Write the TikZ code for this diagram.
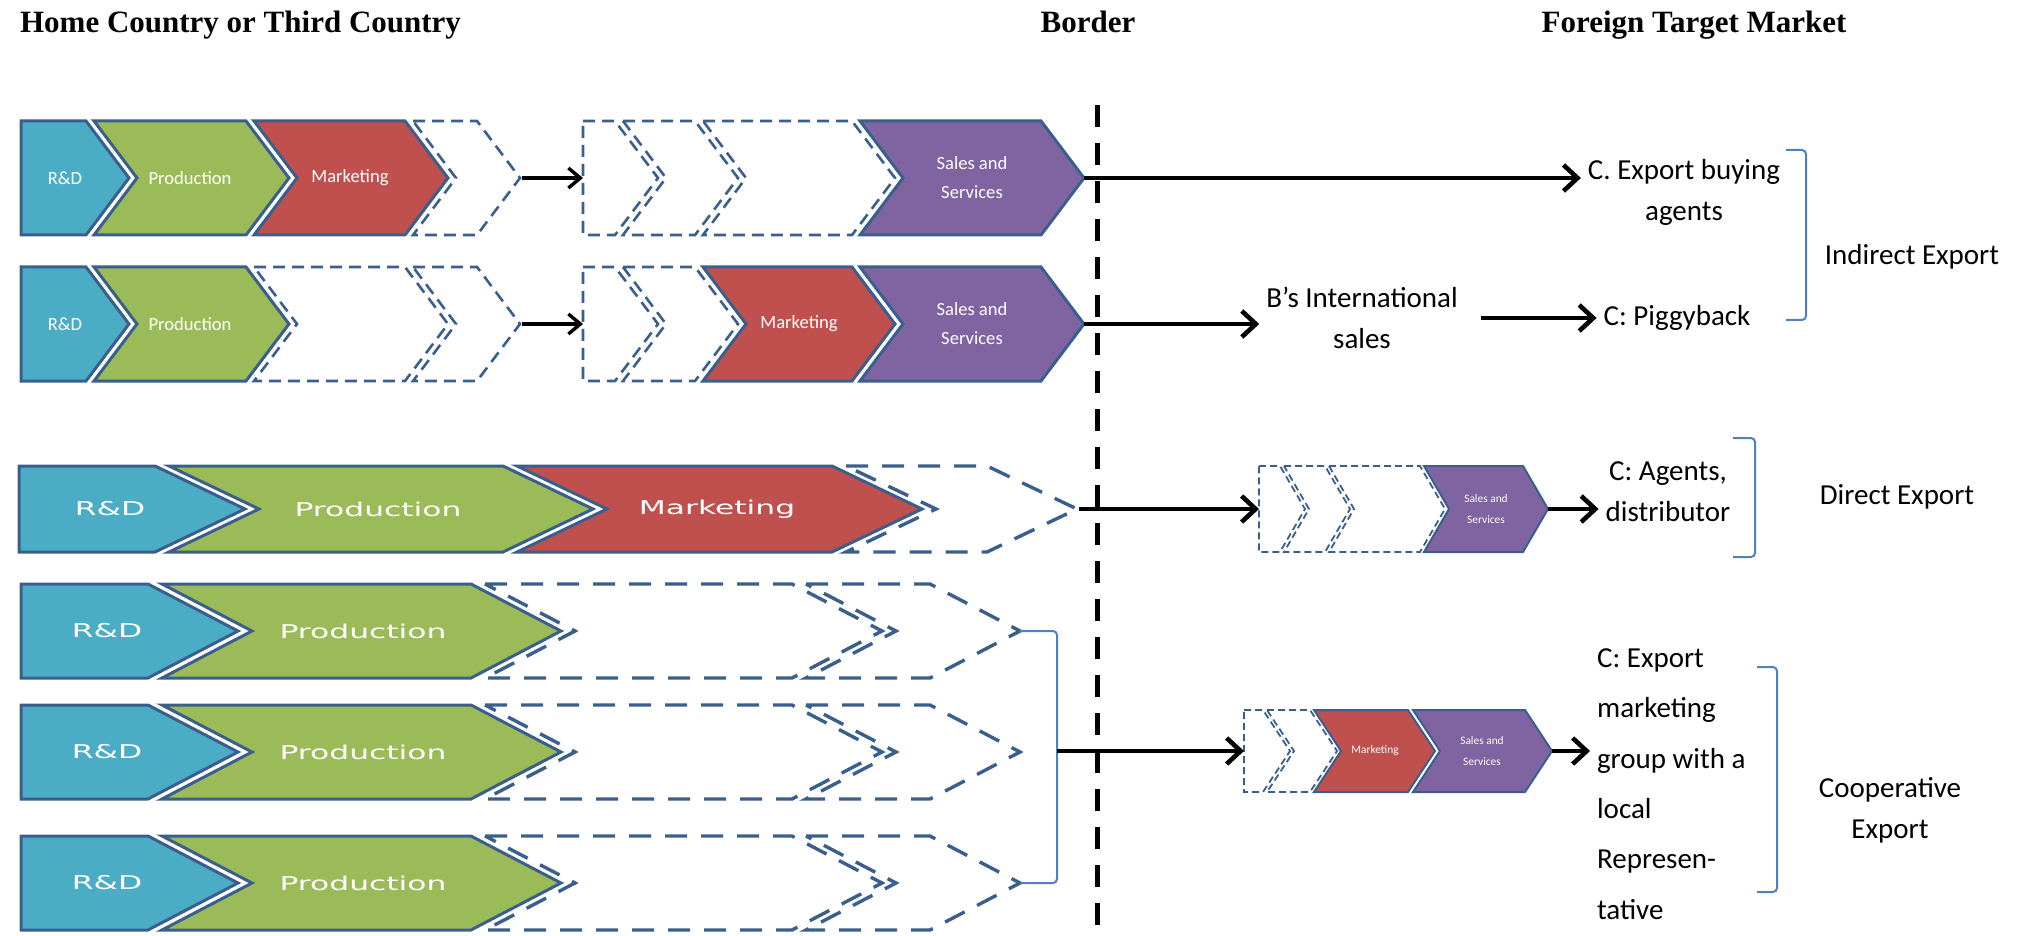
\documentclass[tikz,border=0pt]{standalone}
\usepackage{fontspec}
\setmainfont{Carlito}
\newfontfamily\headfont{Liberation Serif}
\newfontfamily\widefont{DejaVu Sans}
\usepackage{graphicx}
\usepackage{tikz}
\usetikzlibrary{arrows.meta}

\definecolor{rdblue}{HTML}{4BACC6}
\definecolor{prodgreen}{HTML}{9BBB59}
\definecolor{mktred}{HTML}{C0504D}
\definecolor{salespurple}{HTML}{8064A2}
\definecolor{edgeblue}{HTML}{3A5F8C}
\definecolor{bracketblue}{HTML}{4F81BD}

\newcommand{\homeshape}[6]{\draw [#6] (#1,#3-#4) -- (#2-#5,#3-#4) -- (#2,#3) -- (#2-#5,#3+#4) -- (#1,#3+#4) -- cycle;}
\newcommand{\chevshape}[6]{\draw [#6] (#1,#3-#4) -- (#2-#5,#3-#4) -- (#2,#3) -- (#2-#5,#3+#4) -- (#1,#3+#4) -- (#1+#5,#3) -- cycle;}
\newcommand{\stretched}[1]{\scalebox{1.65}[1]{\widefont #1}}

\begin{document}
\begin{tikzpicture}[x=0.5pt, y=-0.5pt,
    stage/.style={draw=edgeblue, line width=1.5pt},
    smallstage/.style={draw=edgeblue, line width=1pt},
    ghost/.style={draw=edgeblue, line width=1.3pt, dash pattern=on 6pt off 3.5pt},
    bigghost/.style={draw=edgeblue, line width=1.7pt, dash pattern=on 11pt off 7pt},
    tinyghost/.style={draw=edgeblue, line width=0.9pt, dash pattern=on 3.5pt off 2pt},
    lbl/.style={text=white, align=center, font=\fontsize{9.3}{14.5}\selectfont},
    widelbl/.style={text=white, font=\fontsize{9.5}{12}\selectfont},
    tinylbl/.style={text=white, align=center, font=\fontsize{5.7}{10.5}\selectfont},
    rlabel/.style={align=center, font=\fontsize{14.5}{20.5}\selectfont},
    headtext/.style={anchor=base, font=\headfont\bfseries\fontsize{15.5}{18}\selectfont},
    flow/.style={-{Straight Barb[length=6pt,width=10pt]}, line width=1.7pt},
    bigflow/.style={-{Straight Barb[length=7pt,width=13pt]}, line width=2.3pt},
    brk/.style={draw=bracketblue, line width=1pt, rounded corners=2pt},
    borderline/.style={line width=2.5pt, dash pattern=on 11pt off 8pt}]
    \useasboundingbox (0,0) rectangle (2024,936);
    \node [headtext, anchor=base west] (homehd) at (13,33) {Home Country or Third Country};
    \node [headtext] (borderhd) at (1088,33) {Border};
    \node [headtext] (foreignhd) at (1694,33) {Foreign Target Market};
    \draw [borderline] (1097,105) -- (1097,936);

    \homeshape{21}{129}{178}{57}{43}{stage, fill=rdblue}
    \chevshape{94}{289}{178}{57}{43}{stage, fill=prodgreen}
    \chevshape{254}{448}{178}{57}{43}{stage, fill=mktred}
    \chevshape{413}{520}{178}{57}{43}{ghost}
    \homeshape{583}{658}{178}{57}{43}{ghost}
    \chevshape{623}{738}{178}{57}{43}{ghost}
    \chevshape{703}{895}{178}{57}{43}{ghost}
    \chevshape{860}{1084}{178}{57}{43}{stage, fill=salespurple}
    \node [lbl] (rd1) at (65,178) {R\&D};
    \node [lbl] (prod1) at (190,178) {Production};
    \node [lbl] (mkt1) at (350,178) {Marketing};
    \node [lbl] (sales1) at (972,178) {Sales and\\Services};
    \coordinate (out1) at (522,178);
    \coordinate (in1) at (583,178);
    \coordinate (tip1) at (1084,178);
    \draw [flow] (out1) -- (in1);

    \homeshape{21}{129}{324}{57}{43}{stage, fill=rdblue}
    \chevshape{94}{289}{324}{57}{43}{stage, fill=prodgreen}
    \chevshape{254}{448}{324}{57}{43}{ghost}
    \chevshape{413}{520}{324}{57}{43}{ghost}
    \homeshape{583}{658}{324}{57}{43}{ghost}
    \chevshape{623}{738}{324}{57}{43}{ghost}
    \chevshape{703}{895}{324}{57}{43}{stage, fill=mktred}
    \chevshape{860}{1084}{324}{57}{43}{stage, fill=salespurple}
    \node [lbl] (rd2) at (65,324) {R\&D};
    \node [lbl] (prod2) at (190,324) {Production};
    \node [lbl] (mkt2) at (799,324) {Marketing};
    \node [lbl] (sales2) at (972,324) {Sales and\\Services};
    \coordinate (out2) at (522,324);
    \coordinate (in2) at (583,324);
    \coordinate (tip2) at (1084,324);
    \draw [flow] (out2) -- (in2);

    \node [rlabel] (buyagents) at (1684,192) {C. Export buying\\agents};
    \node [rlabel] (intl) at (1362,318) {B’s International\\sales};
    \node [rlabel] (piggy) at (1677,318) {C: Piggyback};
    \node [rlabel] (indirect) at (1912,257) {Indirect Export};
    \draw [bigflow] (tip1) -- (tip1 -| buyagents.west);
    \draw [bigflow] (tip2) -- (tip2 -| intl.west);
    \draw [bigflow, shorten <=8pt] (intl.east) -- (piggy.west);
    \draw [brk] (1786,150) -- (1806,150) -- (1806,320) -- (1786,320);

    \homeshape{19}{245}{509}{43}{90}{stage, fill=rdblue}
    \chevshape{169}{593}{509}{43}{90}{stage, fill=prodgreen}
    \chevshape{517}{922}{509}{43}{90}{stage, fill=mktred}
    \chevshape{846}{1077}{509}{43}{90}{bigghost}
    \node [widelbl] (rd3) at (110,509) {\stretched{R\&D}};
    \node [widelbl] (prod3) at (378,509) {\stretched{Production}};
    \node [widelbl] (mkt3) at (717,509) {\stretched{Marketing}};
    \coordinate (out3) at (1079,509);

    \homeshape{1259}{1305}{509}{43}{25}{tinyghost}
    \chevshape{1284}{1350}{509}{43}{25}{tinyghost}
    \chevshape{1329}{1445}{509}{43}{25}{tinyghost}
    \chevshape{1424}{1548}{509}{43}{25}{smallstage, fill=salespurple}
    \node [tinylbl] (sales3) at (1486,509) {Sales and\\Services};
    \coordinate (in3) at (1259,509);
    \coordinate (tip3) at (1548,509);
    \draw [bigflow] (out3) -- (in3);
    \node [rlabel] (agdist) at (1668,492) {C: Agents,\\distributor};
    \node [rlabel] (direct) at (1897,497) {Direct Export};
    \draw [bigflow] (tip3) -- (tip3 -| agdist.west);
    \draw [brk] (1733,438) -- (1755,438) -- (1755,557) -- (1733,557);

    \foreach \y/\n in {631/4, 752/5, 883/6}{
        \homeshape{21}{238}{\y}{47}{90}{stage, fill=rdblue}
        \chevshape{162}{561}{\y}{47}{90}{stage, fill=prodgreen}
        \chevshape{485}{882}{\y}{47}{90}{bigghost}
        \chevshape{806}{1020}{\y}{47}{90}{bigghost}
        \node [widelbl] (rd\n) at (107,\y) {\stretched{R\&D}};
        \node [widelbl] (prod\n) at (363,\y) {\stretched{Production}};
        \coordinate (end\n) at (1020,\y);
    }
    \draw [brk] (end4) -- (1057,631) -- (1057,883) -- (end6);
    \coordinate (gather) at (1057,751);

    \homeshape{1244}{1290}{751}{41}{27}{tinyghost}
    \chevshape{1267}{1337}{751}{41}{27}{tinyghost}
    \chevshape{1314}{1435}{751}{41}{27}{smallstage, fill=mktred}
    \chevshape{1413}{1552}{751}{41}{27}{smallstage, fill=salespurple}
    \node [tinylbl] (mkt6) at (1375,751) {Marketing};
    \node [tinylbl] (sales6) at (1482,751) {Sales and\\Services};
    \coordinate (in6) at (1244,751);
    \coordinate (tip6) at (1552,751);
    \draw [bigflow] (gather) -- (in6);
    \node [rlabel, align=left, anchor=west, font=\fontsize{14.5}{25.2}\selectfont] (coop) at (1590,784) {C: Export\\marketing\\group with a\\local\\Represen-\\tative};
    \node [rlabel] (coopexp) at (1890,810) {Cooperative\\Export};
    \draw [bigflow] (tip6) -- (tip6 -| coop.west);
    \draw [brk] (1757,667) -- (1777,667) -- (1777,892) -- (1757,892);
\end{tikzpicture}
\end{document}
